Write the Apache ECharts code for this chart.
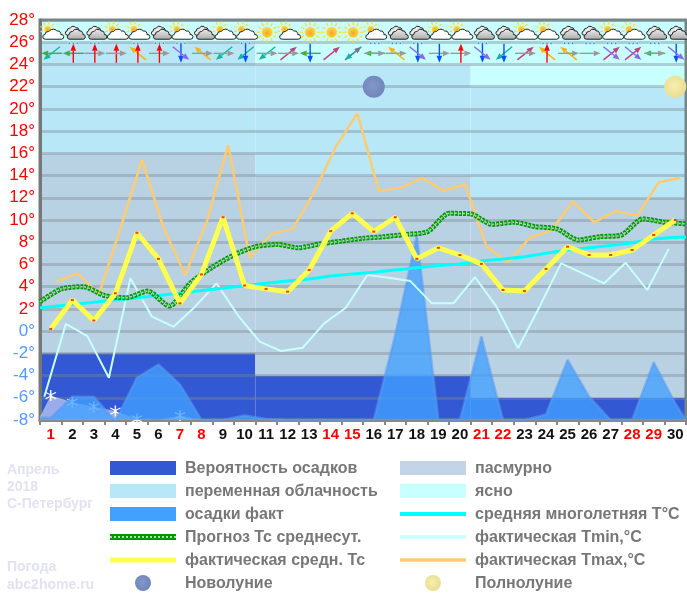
<!DOCTYPE html>
<html lang="ru">

<head>
    <meta charset="UTF-8">
    <title>Погода Апрель 2018 С-Петербург</title>
    <script src="https://cdn.jsdelivr.net/npm/echarts@6/dist/echarts.min.js"></script>
    <style>
        html, body { margin: 0; padding: 0; background: #fff; }
        #chart { width: 687px; height: 599px; }
    </style>
</head>

<body>
    <div id="chart"></div>
    <script>
        // ---- data ----
        const days = ['1', '2', '3', '4', '5', '6', '7', '8', '9', '10', '11', '12', '13', '14', '15',
            '16', '17', '18', '19', '20', '21', '22', '23', '24', '25', '26', '27', '28', '29', '30'];
        const weekendDays = ['1', '7', '8', '14', '15', '21', '22', '28', '29'];

        // cloud bands by ten-day period
        const decadeStart = [0, 10, 20];
        const decadeEnd = [10, 20, 30];
        const precipProbTop = [-2, -4, -6];
        const overcastTop = [16, 14, 12];
        const partlyTop = [26, 24, 22];

        const actualMean = [0.2, 2.8, 0.95, 3.4, 8.85, 6.5, 2.5, 5.1, 10.25, 4.1, 3.8, 3.55, 5.5, 9.0, 10.6,
            8.95, 10.25, 6.5, 7.5, 6.85, 6.05, 3.7, 3.6, 5.6, 7.6, 6.85, 6.85, 7.3, 8.65, 10.0];
        const actualMax = [4.45, 5.2, 3.3, 9.3, 15.4, 9.3, 5.05, 9.85, 16.75, 6.6, 8.75, 9.2, 12.55, 16.6, 19.6,
            12.6, 12.9, 13.8, 12.65, 13.2, 7.6, 6.2, 8.4, 9.05, 11.65, 9.8, 10.8, 10.4, 13.4, 13.8];
        const actualMin = [-5.9, 0.65, -0.45, -4.2, 4.75, 1.3, 0.4, 2.2, 4.3, 1.4, -0.95, -1.8, -1.5, 0.7, 2.1,
            5.05, 4.8, 4.5, 2.5, 2.5, 4.85, 2.2, -1.55, 2.2, 6.1, 5.2, 4.3, 6.15, 3.7, 7.4];
        const longTermMean = [2.2, 2.4, 2.6, 2.8, 3.0, 3.2, 3.4, 3.65, 3.85, 4.1, 4.3, 4.5, 4.7, 4.95, 5.15,
            5.3, 5.5, 5.7, 5.9, 6.05, 6.3, 6.5, 6.7, 7.0, 7.3, 7.5, 7.7, 7.95, 8.3, 8.45];
        const longTermStart = 2.1;
        const longTermEnd = 8.45;
        // forecast sits on the day boundaries, so it has 31 values
        const forecastMean = [2.65, 3.8, 4.0, 3.2, 3.0, 3.6, 2.25, 4.35, 5.75, 6.85, 7.6, 7.8, 7.5, 7.85, 8.1, 8.35,
            8.5, 8.7, 8.95, 10.6, 10.55, 9.6, 9.8, 9.4, 9.2, 8.2, 8.5, 8.65, 10.1, 9.8, 9.65];

        const rainLevel = [-7.8, -5.9, -5.9, -8.1, -4.2, -3, -4.8, -8, -8, -7.6, -7.9, -8, -8, -8, -8,
            -8, -0.3, 8.6, -8, -8, -0.5, -8, -8, -7.5, -2.6, -5.9, -8, -8, -2.8, -6.5];
        const snowLevel = [-5.8, -6.4, -6.8, -7.2, -7.9, -8, -7.6, -8];
        const snowFlakeDays = [1, 2, 3, 4, 5, 7];

        const skyIcon = ['partly', 'overcast', 'overcast', 'partly', 'partly', 'overcast', 'partly', 'overcast', 'partly', 'partly',
            'sun', 'partly', 'sun', 'sun', 'sun', 'partly', 'overcast', 'overcast', 'partly', 'partly',
            'overcast', 'overcast', 'partly', 'partly', 'overcast', 'overcast', 'partly', 'partly', 'overcast', 'overcast'];
        const rainIcon = [0, 1, 1, 0, 1, 1, 1, 0, 0, 1, 0, 0, 0, 0, 0, 1, 1, 1, 0, 0, 1, 0, 0, 1, 1, 1, 1, 1, 1, 0];
        const windFirst = ['SW', 'W', 'E', 'N', 'NW', 'E', 'S', 'NW', 'SW', 'SW', 'SW', 'NE', 'W', 'NE', 'NE',
            'W', 'NW', 'S', 'E', 'E', 'S', 'SW', 'NE', 'NW', 'NW', 'E', 'NE', 'NE', 'W', 'S'];
        const windSecond = ['W', 'N', 'N', 'E', 'N', 'N', 'SE', 'E', 'E', 'S', 'E', 'E', 'S', '', 'SW',
            'E', 'E', 'SE', 'S', 'N', 'SE', 'S', 'E', 'N', 'E', '', 'SE', 'SE', 'E', 'SE'];

        const newMoonDays = [16];
        const fullMoonDays = [30];
        const moonLevel = 22;

        // ---- colours and shapes ----
        const C_PROB = '#3358d4', C_OVERCAST = '#b8d2e4', C_PARTLY = '#b8e8f8', C_CLEAR = '#c8ffff';
        const C_RAIN = '#42a0ff', C_MEAN = '#ffff4d', C_MAX = '#ffcb70', C_MIN = '#c8ffff', C_LONG = '#00ffff', C_FORECAST = '#009900';
        const WIND = {
            N: { dx: 0, dy: -1, len: 19, color: '#ff0000' },
            S: { dx: 0, dy: 1, len: 19, color: '#0a50ff' },
            E: { dx: 1, dy: 0, len: 21, color: '#999999' },
            W: { dx: -1, dy: 0, len: 21, color: '#44aa44' },
            SW: { dx: -0.78, dy: 0.62, len: 21, color: '#11b5a0' },
            NE: { dx: 0.78, dy: -0.62, len: 21, color: '#c04080' },
            NW: { dx: -0.78, dy: -0.62, len: 21, color: '#ffb300' },
            SE: { dx: 0.78, dy: 0.62, len: 21, color: '#8866ee' }
        };
        const CLOUD_PATH = 'M4,20 A4,4 0 0 1 3,12 A5,5 0 0 1 9,7 A7,7 0 0 1 21,6 A5,5 0 0 1 27,12 A4,4 0 0 1 28,20 Z';
        const FLAKE = 'path://M9,0H11V7L17,3.5L18,5.2L12,8.7V11.3L18,14.8L17,16.5L11,13V20H9V13L3,16.5L2,14.8L8,11.3V8.7L2,5.2L3,3.5L9,7Z';

        function cloud(x, y, w, h, fill) {
            return {
                type: 'path',
                shape: { pathData: CLOUD_PATH, x: x, y: y, width: w, height: h, layout: 'cover' },
                style: { fill: fill, stroke: '#222', lineWidth: 1 }
            };
        }

        function sun(cx, cy, r, rayIn, rayOut, count) {
            const parts = [];
            for (let i = 0; i < count; i++) {
                const a = i * 2 * Math.PI / count;
                parts.push({
                    type: 'line',
                    shape: {
                        x1: cx + Math.cos(a) * rayIn, y1: cy + Math.sin(a) * rayIn,
                        x2: cx + Math.cos(a) * rayOut, y2: cy + Math.sin(a) * rayOut
                    },
                    style: { stroke: '#ffdc2e', lineWidth: 1.2 }
                });
            }
            parts.push({
                type: 'circle',
                shape: { cx: cx, cy: cy, r: r },
                style: {
                    fill: new echarts.graphic.RadialGradient(0.5, 0.6, 0.6, [
                        { offset: 0, color: '#f5a623' }, { offset: 1, color: '#ffe24a' }
                    ])
                }
            });
            return parts;
        }

        // weather picture above each day
        function renderSky(params, api) {
            const p = api.coord([api.value(0), api.value(1)]);
            const kind = skyIcon[params.dataIndex];
            let children = [];
            if (kind === 'sun') {
                children = sun(1, 0, 5.5, 7, 10.5, 12);
            } else if (kind === 'partly') {
                children = sun(-3, -3, 3.5, 5, 8, 9);
                children.push(cloud(-8, -3, 21, 10, '#ffffff'));
            } else {
                const grey = new echarts.graphic.LinearGradient(0, 0, 0, 1, [
                    { offset: 0, color: '#eeeeee' }, { offset: 1, color: '#aaaaaa' }
                ]);
                children.push(cloud(-7, -6, 16, 9, '#e8e8e8'));
                children.push(cloud(-5, -3, 18, 10, grey));
            }
            if (rainIcon[params.dataIndex]) {
                [-4, 0, 4].forEach(function (dx) {
                    children.push({
                        type: 'circle',
                        shape: { cx: 1 + dx, cy: 11, r: 1.3 },
                        style: { fill: '#2a95e8', stroke: '#ffffff', lineWidth: 0.6 }
                    });
                });
            }
            return { type: 'group', x: p[0], y: p[1], children: children };
        }

        function arrow(name) {
            const w = WIND[name];
            if (!w) return [];
            const half = w.len / 2, head = 7, side = 2.8;
            const hx = w.dx * half, hy = w.dy * half;
            const bx = hx - w.dx * head, by = hy - w.dy * head;
            return [{
                type: 'line',
                shape: { x1: -hx, y1: -hy, x2: bx, y2: by },
                style: { stroke: w.color, lineWidth: 1.4 }
            }, {
                type: 'polygon',
                shape: { points: [[hx, hy], [bx - w.dy * side, by + w.dx * side], [bx + w.dy * side, by - w.dx * side]] },
                style: { fill: w.color }
            }];
        }

        // two wind arrows per day
        function renderWind(params, api) {
            const p = api.coord([api.value(0), api.value(1)]);
            const children = arrow(windFirst[params.dataIndex]).concat(arrow(windSecond[params.dataIndex]));
            return { type: 'group', x: p[0] + 1, y: p[1], children: children };
        }

        // cloud bands: one rectangle per period and level
        function renderBand(params, api) {
            const a = api.coord([api.value(0), api.value(3)]);
            const b = api.coord([api.value(1), api.value(2)]);
            const colors = [C_PROB, C_OVERCAST, C_PARTLY, C_CLEAR];
            return {
                type: 'rect',
                shape: { x: a[0], y: a[1], width: b[0] - a[0], height: b[1] - a[1] },
                style: { fill: colors[api.value(4)] }
            };
        }

        const bandRows = [];
        decadeStart.forEach(function (start, i) {
            const end = decadeEnd[i];
            bandRows.push([start, end, -8, precipProbTop[i], 0]);
            bandRows.push([start, end, precipProbTop[i], overcastTop[i], 1]);
            bandRows.push([start, end, overcastTop[i], partlyTop[i], 2]);
            bandRows.push([start, end, partlyTop[i], 28, 3]);
        });

        // ---- helpers that place values on the hidden 0..30 x axis ----
        const atCentre = (values, shift) => values.map((v, i) => [i + 0.5 + shift, v]);
        const atEdge = values => values.map((v, i) => [i, v]);

        const rainPoints = [[0, rainLevel[0]]].concat(atCentre(rainLevel, 0), [[30, -8]]);
        const snowPoints = [[0, -7.7]].concat(atCentre(snowLevel, 0));
        const longTermPoints = [[0, longTermStart]].concat(atCentre(longTermMean, 0), [[30, longTermEnd]]);

        function lineSeries(name, data, color, width, extra) {
            return Object.assign({
                name: name, type: 'line', xAxisIndex: 1, data: data, showSymbol: false,
                lineStyle: { color: color, width: width }, z: 5
            }, extra || {});
        }

        function moonSeries(name, moonDays, inner, outer) {
            return {
                name: name, type: 'scatter', xAxisIndex: 1, z: 9, symbolSize: 22,
                data: moonDays.map(d => [d - 0.5, moonLevel]),
                itemStyle: {
                    opacity: 1,
                    color: new echarts.graphic.RadialGradient(0.45, 0.45, 0.6, [
                        { offset: 0, color: inner }, { offset: 1, color: outer }
                    ])
                }
            };
        }

        // ---- legend and watermark ----
        const FONT = '"Liberation Sans", Arial, sans-serif';
        const LEFT_X = 110, RIGHT_X = 400, SWATCH_W = 66, TEXT_LEFT = 185, TEXT_RIGHT = 475;
        const ROW_Y = [468, 491, 514, 537, 560, 583];

        function legendText(x, y, text) {
            return {
                type: 'text', x: x, y: y + 1, z: 20,
                style: { text: text, fill: '#777777', font: 'bold 16px ' + FONT, textVerticalAlign: 'middle' }
            };
        }
        function legendBar(x, y, h, color) {
            return {
                type: 'rect', x: x, y: y - h / 2, z: 20,
                shape: { width: SWATCH_W, height: h }, style: { fill: color }
            };
        }
        function legendDots(x, y) {
            return {
                type: 'line', z: 21,
                shape: { x1: x, y1: y, x2: x + SWATCH_W, y2: y },
                style: { stroke: '#a8e0a8', lineWidth: 2, lineDash: [2, 2] }
            };
        }
        function pale(x, y, text) {
            return {
                type: 'text', x: x, y: y, z: 20,
                style: { text: text, fill: '#e2e2f0', font: 'bold 14px ' + FONT, textVerticalAlign: 'middle' }
            };
        }
        function legendMoon(x, y, inner, outer) {
            return {
                type: 'circle', x: x, y: y, z: 20, shape: { r: 8 },
                style: {
                    fill: new echarts.graphic.RadialGradient(0.45, 0.45, 0.6, [
                        { offset: 0, color: inner }, { offset: 1, color: outer }
                    ])
                }
            };
        }

        const legendItems = [
            legendBar(LEFT_X, ROW_Y[0], 14, C_PROB), legendText(TEXT_LEFT, ROW_Y[0], 'Вероятность осадков'),
            legendBar(LEFT_X, ROW_Y[1], 14, C_PARTLY), legendText(TEXT_LEFT, ROW_Y[1], 'переменная облачность'),
            legendBar(LEFT_X, ROW_Y[2], 14, C_RAIN), legendText(TEXT_LEFT, ROW_Y[2], 'осадки факт'),
            legendBar(LEFT_X, ROW_Y[3], 6, C_FORECAST), legendDots(LEFT_X, ROW_Y[3]), legendText(TEXT_LEFT, ROW_Y[3], 'Прогноз Тс среднесут.'),
            legendBar(LEFT_X, ROW_Y[4], 5, C_MEAN), legendText(TEXT_LEFT, ROW_Y[4], 'фактическая средн. Тс'),
            legendMoon(LEFT_X + 33, ROW_Y[5], '#8296c8', '#6f84b8'), legendText(TEXT_LEFT, ROW_Y[5], 'Новолуние'),
            legendBar(RIGHT_X, ROW_Y[0], 14, '#c2d4e6'), legendText(TEXT_RIGHT, ROW_Y[0], 'пасмурно'),
            legendBar(RIGHT_X, ROW_Y[1], 14, C_CLEAR), legendText(TEXT_RIGHT, ROW_Y[1], 'ясно'),
            legendBar(RIGHT_X, ROW_Y[2], 4, C_LONG), legendText(TEXT_RIGHT, ROW_Y[2], 'средняя многолетняя Т°С'),
            legendBar(RIGHT_X, ROW_Y[3], 3.5, C_MIN), legendText(TEXT_RIGHT, ROW_Y[3], 'фактическая Tmin,°C'),
            legendBar(RIGHT_X, ROW_Y[4], 3.5, C_MAX), legendText(TEXT_RIGHT, ROW_Y[4], 'фактическая Tmax,°C'),
            legendMoon(RIGHT_X + 33, ROW_Y[5], '#f7efb0', '#e8dc90'), legendText(TEXT_RIGHT, ROW_Y[5], 'Полнолуние'),
            pale(7, 470, 'Апрель'), pale(7, 487, '2018'), pale(7, 504, 'С-Петербург'),
            pale(7, 567, 'Погода'), pale(7, 585, 'abc2home.ru')
        ];

        // ---- chart ----
        const myChart = echarts.init(document.getElementById('chart'), null, { renderer: 'canvas' });

        const option = {
            animation: false,
            backgroundColor: '#ffffff',
            grid: {
                left: 40, right: 1, top: 20, bottom: 179, show: true, z: 1,
                backgroundColor: 'transparent', borderColor: '#748688', borderWidth: 3
            },
            xAxis: [{
                type: 'category', data: days, boundaryGap: true, z: 1,
                axisLine: { onZero: false, lineStyle: { color: '#888888', width: 3 } },
                axisTick: { show: true, length: 5, lineStyle: { color: '#888888', width: 2 } },
                axisLabel: {
                    interval: 0, margin: 7, fontFamily: FONT, fontWeight: 'bold', fontSize: 15,
                    color: v => weekendDays.includes(v) ? '#ff0000' : '#111111'
                }
            }, {
                type: 'value', min: 0, max: 30, show: false
            }],
            yAxis: {
                type: 'value', min: -8, max: 28, interval: 2, z: 1,
                axisLine: { show: true, lineStyle: { color: '#777777', width: 3 } },
                axisTick: { show: false },
                splitLine: { show: true, lineStyle: { color: 'rgba(125,135,145,0.4)', width: 3 } },
                axisLabel: {
                    margin: 5, fontFamily: FONT, fontSize: 17, padding: [3, 0, 0, 0],
                    formatter: '{value}°',
                    color: v => v > 0 ? '#ff0000' : '#5599ff'
                }
            },
            graphic: { elements: legendItems },
            series: [
                {
                    name: 'Облачность', type: 'custom', xAxisIndex: 1, z: 0, silent: true,
                    data: bandRows, renderItem: renderBand, encode: { x: [0, 1], y: [2, 3] }
                },
                lineSeries('снег', snowPoints, 'rgba(255,255,255,0)', 0, {
                    z: 3, areaStyle: { origin: 'start', color: 'rgba(255,255,255,0.72)' }
                }),
                {
                    name: 'снежинки', type: 'scatter', xAxisIndex: 1, z: 3, symbol: FLAKE, symbolSize: 11,
                    data: snowFlakeDays.map(d => [d - 0.5, snowLevel[d - 1]]),
                    itemStyle: { color: '#ffffff', opacity: 1 }
                },
                lineSeries('осадки факт', rainPoints, 'rgba(90,155,240,0.55)', 2.5, {
                    z: 4, areaStyle: { origin: 'start', color: C_RAIN, opacity: 0.78 }
                }),
                lineSeries('фактическая Tmin,°C', atCentre(actualMin, -0.3), C_MIN, 2),
                lineSeries('фактическая Tmax,°C', atCentre(actualMax, 0.24), C_MAX, 2.5),
                lineSeries('средняя многолетняя Т°С', longTermPoints, C_LONG, 3, { z: 6 }),
                lineSeries('Прогноз Тс среднесут.', atEdge(forecastMean), C_FORECAST, 5, {
                    z: 7, smooth: 0.25,
                    lineStyle: { color: C_FORECAST, width: 5, type: [3, 1] }
                }),
                lineSeries('Прогноз Тс среднесут. центр', atEdge(forecastMean), '#a8e0a8', 1.5, {
                    z: 7, smooth: 0.25,
                    lineStyle: { color: '#a8e0a8', width: 1.5, type: [2, 2] }
                }),
                lineSeries('фактическая средн. Тс', atCentre(actualMean, 0), C_MEAN, 5, {
                    z: 8, showSymbol: true, showAllSymbol: true, symbol: 'rect', symbolSize: [3, 2],
                    itemStyle: { color: '#f04020' }
                }),
                moonSeries('Новолуние', newMoonDays, '#8296c8', '#6f84b8'),
                moonSeries('Полнолуние', fullMoonDays, '#f7efb0', '#e8dc90'),
                {
                    name: 'Небо', type: 'custom', xAxisIndex: 1, z: 9, silent: true,
                    data: days.map((d, i) => [i + 0.5, 26.9]), renderItem: renderSky
                },
                {
                    name: 'Ветер', type: 'custom', xAxisIndex: 1, z: 9, silent: true,
                    data: days.map((d, i) => [i + 0.5, 25]), renderItem: renderWind
                }
            ]
        };

        myChart.setOption(option);
    </script>
</body>

</html>
